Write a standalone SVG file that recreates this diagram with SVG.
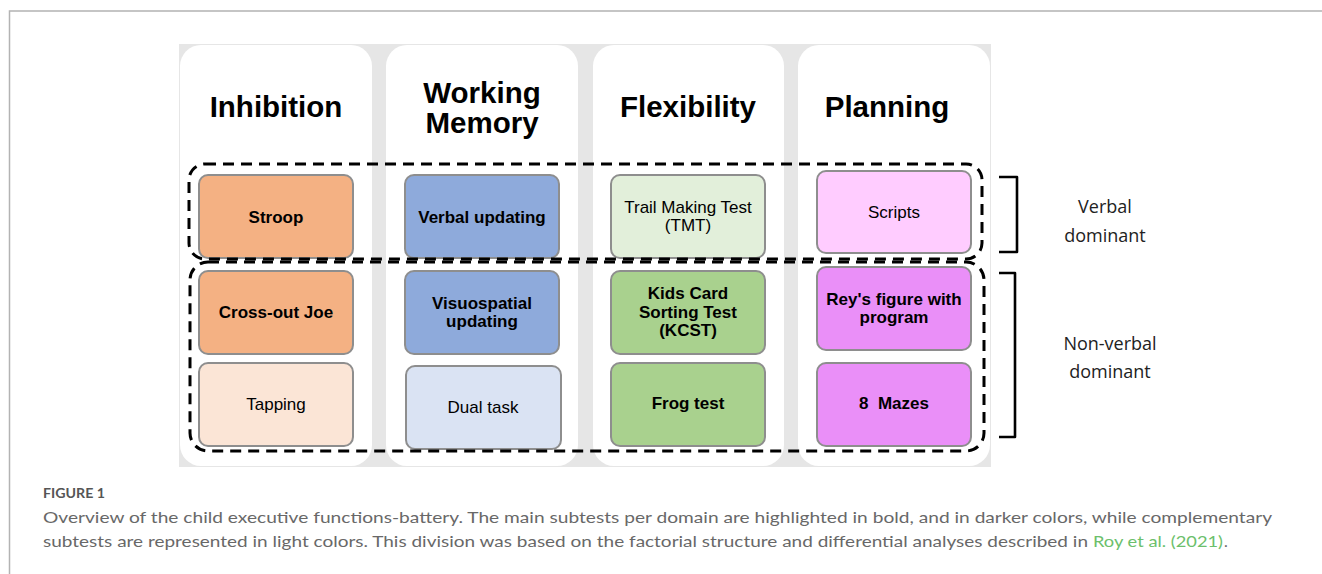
<svg xmlns="http://www.w3.org/2000/svg" width="1322" height="574" viewBox="0 0 1322 574">
<style>
.card{fill:#ffffff}
.box{stroke:#8e8e8e;stroke-width:2}
.hd{font-family:"Liberation Sans",Arial,sans-serif;font-weight:bold;font-size:29.5px;fill:#000;text-anchor:middle}
.b{font-family:"Liberation Sans",Arial,sans-serif;font-weight:bold;font-size:17px;fill:#000;text-anchor:middle}
.r{font-family:"Liberation Sans",Arial,sans-serif;font-size:17px;fill:#000;text-anchor:middle}
.dash{fill:none;stroke:#000;stroke-width:3;stroke-dasharray:11 7}
.br{fill:none;stroke:#000;stroke-width:2.6;stroke-linejoin:round}
.lab{font-family:"Open Sans",sans-serif;font-size:18px;fill:#222;text-anchor:middle}
.cap{font-family:Lato,"Open Sans",sans-serif;font-size:16px;fill:#686868}
</style>
<rect width="1322" height="574" fill="#fff"/>
<path d="M9.5,574 V11 H1322" fill="none" stroke="#b3b3b3" stroke-width="1.5"/>
<rect x="179" y="44" width="812" height="423" fill="#e6e6e6"/>
<g id="col-inhibition">
<rect class="card" x="180" y="45" width="192" height="421" rx="21"/>
<text class="hd" x="276" y="117">Inhibition</text>
</g>
<g id="col-working-memory">
<rect class="card" x="386" y="45" width="192" height="421" rx="21"/>
<text class="hd" x="482" y="103">Working</text>
<text class="hd" x="482" y="133">Memory</text>
</g>
<g id="col-flexibility">
<rect class="card" x="593" y="45" width="191" height="421" rx="21"/>
<text class="hd" x="688" y="117">Flexibility</text>
</g>
<g id="col-planning">
<rect class="card" x="798" y="45" width="192" height="421" rx="21"/>
<text class="hd" x="887" y="117">Planning</text>
</g>
<g id="stroop"><rect class="box" x="199" y="175" width="154" height="83" rx="9" fill="#f4b183"/><text class="b" x="276" y="223">Stroop</text></g>
<g id="verbal-updating"><rect class="box" x="405" y="175" width="154" height="83" rx="9" fill="#8eaadb"/><text class="b" x="482" y="223">Verbal updating</text></g>
<g id="tmt"><rect class="box" x="611" y="175" width="154" height="83" rx="9" fill="#e2efda"/><text class="r" x="688" y="213">Trail Making Test</text><text class="r" x="688" y="231">(TMT)</text></g>
<g id="scripts"><rect class="box" x="817" y="171" width="154" height="82" rx="9" fill="#ffccff"/><text class="r" x="894" y="218">Scripts</text></g>
<g id="cross-out-joe"><rect class="box" x="199" y="271" width="154" height="83" rx="9" fill="#f4b183"/><text class="b" x="276" y="318">Cross-out Joe</text></g>
<g id="visuospatial"><rect class="box" x="405" y="271" width="154" height="83" rx="9" fill="#8eaadb"/><text class="b" x="482" y="309">Visuospatial</text><text class="b" x="482" y="327">updating</text></g>
<g id="kcst"><rect class="box" x="611" y="271" width="154" height="83" rx="9" fill="#a9d18e"/><text class="b" x="688" y="299">Kids Card</text><text class="b" x="688" y="318">Sorting Test</text><text class="b" x="688" y="336">(KCST)</text></g>
<g id="rey"><rect class="box" x="817" y="267" width="154" height="83" rx="9" fill="#ea8ff8"/><text class="b" x="894" y="305">Rey's figure with</text><text class="b" x="894" y="323">program</text></g>
<g id="tapping"><rect class="box" x="199" y="363" width="154" height="83" rx="9" fill="#fbe5d6"/><text class="r" x="276" y="410">Tapping</text></g>
<g id="dual-task"><rect class="box" x="406" y="366" width="155" height="83" rx="9" fill="#dae3f3"/><text class="r" x="483" y="413">Dual task</text></g>
<g id="frog"><rect class="box" x="611" y="363" width="154" height="83" rx="9" fill="#a9d18e"/><text class="b" x="688" y="409">Frog test</text></g>
<g id="mazes"><rect class="box" x="817" y="363" width="154" height="83" rx="9" fill="#ea8ff8"/><text class="b" x="894" y="409" xml:space="preserve">8  Mazes</text></g>
<g id="connectors">
<rect class="dash" x="189" y="164" width="793" height="95" rx="16"/>
<rect class="dash" x="190" y="262" width="794" height="189" rx="18"/>
<path class="br" d="M999,177 H1017 V252 H999"/>
<path class="br" d="M999,273 H1015 V437 H999"/>
</g>
<g id="labels">
<text class="lab" x="1105" y="213">Verbal</text>
<text class="lab" x="1105" y="242">dominant</text>
<text class="lab" x="1110" y="350">Non-verbal</text>
<text class="lab" x="1110" y="378">dominant</text>
</g>
<g id="caption">
<text x="43" y="498" font-family="Lato,'Open Sans',sans-serif" font-weight="bold" font-size="12.5px" fill="#555" textLength="62" lengthAdjust="spacingAndGlyphs">FIGURE 1</text>
<text class="cap" x="43" y="523" textLength="1229" lengthAdjust="spacingAndGlyphs">Overview of the child executive functions-battery. The main subtests per domain are highlighted in bold, and in darker colors, while complementary</text>
<text class="cap" x="43" y="547" textLength="1045" lengthAdjust="spacingAndGlyphs">subtests are represented in light colors. This division was based on the factorial structure and differential analyses described in</text>
<text class="cap" x="1093" y="547" style="fill:#6cbf6c" textLength="130" lengthAdjust="spacingAndGlyphs">Roy et al. (2021)</text>
<text class="cap" x="1224" y="547">.</text>
</g>
</svg>
